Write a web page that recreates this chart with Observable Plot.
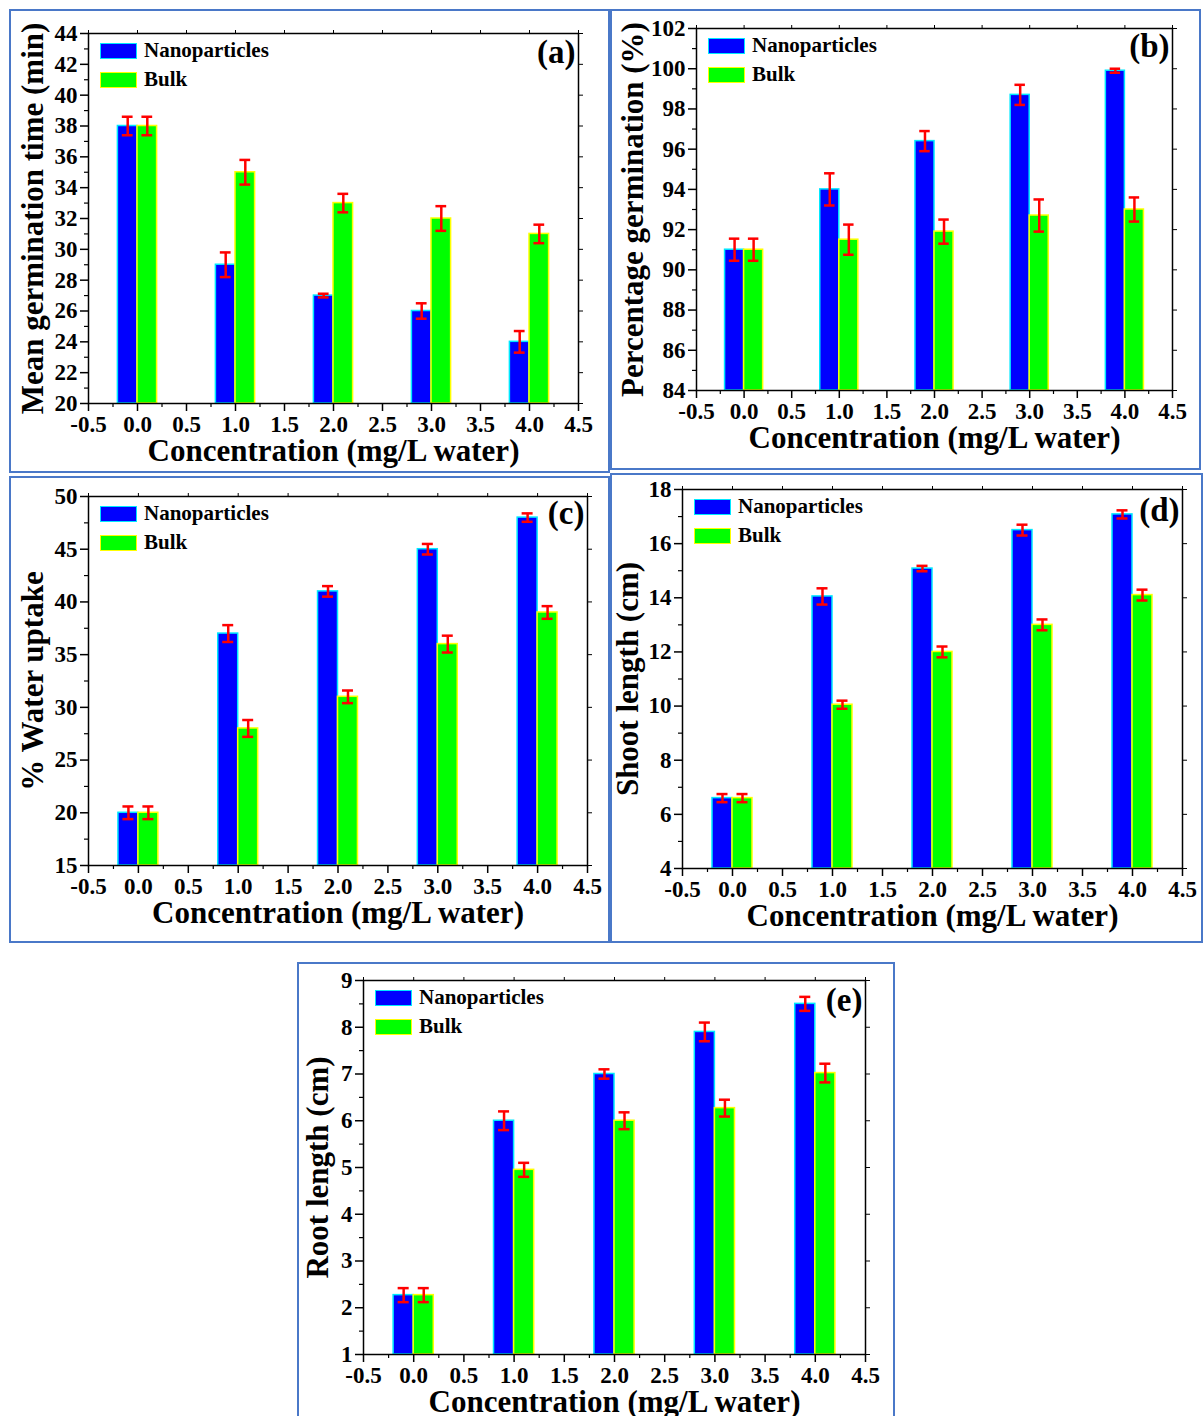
<!DOCTYPE html>
<html><head><meta charset="utf-8">
<script src="https://cdn.jsdelivr.net/npm/d3@7"></script>
<script src="https://cdn.jsdelivr.net/npm/@observablehq/plot@0.6"></script>
<style>
html,body{margin:0;padding:0;background:#fff;}
body{width:1203px;height:1416px;overflow:hidden;position:relative;font-family:"Liberation Serif","Times New Roman",serif;}
.panel{position:absolute;}
.panel svg{position:absolute;left:0;top:0;}
.border{position:absolute;left:0;top:0;right:0;bottom:0;border:2.5px solid #4a78c8;box-sizing:border-box;pointer-events:none;}
.legend{position:absolute;font-weight:bold;font-size:21px;color:#000;line-height:1;}
.legend .item{display:flex;align-items:center;height:29px;}
.legend .sw{width:35px;height:14px;margin-right:7px;border:1.5px solid;}
</style>
</head><body>
<script>
// ---- shared categories ----
const concentrations = [0, 1, 2, 3, 4];
const seriesNames = ["Nanoparticles", "Bulk"];
const xTicks = [-0.5, 0, 0.5, 1, 1.5, 2, 2.5, 3, 3.5, 4, 4.5];
const xLabel = "Concentration (mg/L water)";

// ---- (a) Mean germination time ----
const mgtNano = [38, 29, 27, 26, 24];
const mgtNanoErr = [0.6, 0.8, 0.12, 0.5, 0.7];
const mgtBulk = [38, 35, 33, 32, 31];
const mgtBulkErr = [0.6, 0.8, 0.6, 0.8, 0.6];

// ---- (b) Percentage germination ----
const pgNano = [91, 94, 96.4, 98.7, 99.9];
const pgNanoErr = [0.55, 0.8, 0.5, 0.5, 0.1];
const pgBulk = [91, 91.5, 91.9, 92.7, 93];
const pgBulkErr = [0.55, 0.75, 0.6, 0.8, 0.6];

// ---- (c) Water uptake ----
const wuNano = [20, 37, 41, 45, 48];
const wuNanoErr = [0.6, 0.8, 0.5, 0.5, 0.4];
const wuBulk = [20, 28, 31, 36, 39];
const wuBulkErr = [0.6, 0.8, 0.6, 0.8, 0.6];

// ---- (d) Shoot length ----
const slNano = [6.6, 14.05, 15.08, 16.5, 17.08];
const slNanoErr = [0.15, 0.3, 0.1, 0.2, 0.15];
const slBulk = [6.6, 10.05, 12.0, 13.0, 14.1];
const slBulkErr = [0.15, 0.15, 0.2, 0.2, 0.2];

// ---- (e) Root length ----
const rlNano = [2.27, 6.0, 7.0, 7.9, 8.5];
const rlNanoErr = [0.15, 0.2, 0.1, 0.2, 0.15];
const rlBulk = [2.27, 4.95, 6.0, 6.27, 7.02];
const rlBulkErr = [0.15, 0.15, 0.18, 0.18, 0.2];

const fills = {Nanoparticles: "#0000ff", Bulk: "#00ff00"};
const strokes = {Nanoparticles: "#00e8ff", Bulk: "#ffff00"};

const panels = [
  {tag: "(a)", yLabel: "Mean germination time (min)", nano: mgtNano, nanoErr: mgtNanoErr, bulk: mgtBulk, bulkErr: mgtBulkErr,
   domain: [20, 44], step: 2, box: [9, 9, 601, 464], m: [24, 32, 70, 79], yDx: -55, tagDy: 19},
  {tag: "(b)", yLabel: "Percentage germination (%)", nano: pgNano, nanoErr: pgNanoErr, bulk: pgBulk, bulkErr: pgBulkErr,
   domain: [84, 102], step: 2, box: [610, 9, 591, 461], m: [19, 29, 80, 86], yDx: -63, tagDy: 18},
  {tag: "(c)", yLabel: "% Water uptake", nano: wuNano, nanoErr: wuNanoErr, bulk: wuBulk, bulkErr: wuBulkErr,
   domain: [15, 50], step: 5, box: [9, 476, 601, 467], m: [20, 23, 78, 79], yDx: -55, tagDy: 17},
  {tag: "(d)", yLabel: "Shoot length (cm)", nano: slNano, nanoErr: slNanoErr, bulk: slBulk, bulkErr: slBulkErr,
   domain: [4, 18], step: 2, box: [610, 473, 593, 470], m: [16, 21, 75, 72], yDx: -54, tagDy: 21},
  {tag: "(e)", yLabel: "Root length (cm)", nano: rlNano, nanoErr: rlNanoErr, bulk: rlBulk, bulkErr: rlBulkErr,
   domain: [1, 9], step: 1, box: [297, 962, 598, 460], m: [18, 30, 68, 66], yDx: -45, tagDy: 20}
];

const eps = 1e-9;
const minorX = d3.range(-0.5, 4.5 + eps, 0.25).filter(v => !xTicks.some(t => Math.abs(t - v) < eps));
const bw = 0.2;
const cap = 0.055;
const FONT = "'Liberation Serif','Times New Roman',serif";

function build(cfg) {
  const rows = [];
  concentrations.forEach((c, i) => {
    rows.push({c, s: seriesNames[0], v: cfg.nano[i], e: cfg.nanoErr[i]});
    rows.push({c, s: seriesNames[1], v: cfg.bulk[i], e: cfg.bulkErr[i]});
  });
  const nanoRows = rows.filter(d => d.s === seriesNames[0]);
  const bulkRows = rows.filter(d => d.s === seriesNames[1]);
  const cx = d => d.c + (d.s === seriesNames[0] ? -bw / 2 : bw / 2);
  const [y0, y1] = cfg.domain;
  const majorY = d3.range(y0, y1 + eps, cfg.step);
  const minorY = d3.range(y0, y1 + eps, cfg.step / 2).filter(v => !majorY.some(t => Math.abs(t - v) < eps));
  const [left, top, w, h] = cfg.box;
  const [mt, mr, mb, ml] = cfg.m;

  const barMark = (data, s) => Plot.rect(data, {
    x1: d => d.c + (s === seriesNames[0] ? -bw : 0),
    x2: d => d.c + (s === seriesNames[0] ? 0 : bw),
    y1: () => y0, y2: "v",
    fill: fills[s], stroke: strokes[s], strokeWidth: 1.5
  });

  const chart = Plot.plot({
    width: w, height: h,
    marginTop: mt, marginRight: mr, marginBottom: mb, marginLeft: ml,
    x: {domain: [-0.5, 4.5]},
    y: {domain: cfg.domain},
    style: {fontFamily: FONT, fontWeight: "bold", fontSize: "23px", color: "#000", background: "transparent", overflow: "visible"},
    marks: [
      barMark(nanoRows, seriesNames[0]),
      barMark(bulkRows, seriesNames[1]),
      Plot.ruleX(rows, {x: cx, y1: d => d.v - d.e, y2: d => d.v + d.e, stroke: "#ff0000", strokeWidth: 2.5}),
      Plot.ruleY(rows, {y: d => d.v + d.e, x1: d => cx(d) - cap, x2: d => cx(d) + cap, stroke: "#ff0000", strokeWidth: 2.5}),
      Plot.ruleY(rows, {y: d => d.v - d.e, x1: d => cx(d) - cap, x2: d => cx(d) + cap, stroke: "#ff0000", strokeWidth: 2.5}),
      Plot.frame({stroke: "#000", strokeWidth: 1.5}),
      Plot.axisX({ticks: xTicks, tickSize: 8, tickPadding: 4, tickFormat: d => d.toFixed(1), label: null, strokeWidth: 1.5, fontSize: 23, fontWeight: "bold", fontFamily: FONT}),
      Plot.axisX({ticks: minorX, tickSize: 4, fill: "none", label: null, strokeWidth: 1.2}),
      Plot.axisX({anchor: "top", ticks: xTicks, tickSize: 4, fill: "none", label: null, strokeWidth: 1}),
      Plot.axisY({ticks: majorY, tickSize: 8, tickPadding: 3, tickFormat: d => String(d), label: null, strokeWidth: 1.5, fontSize: 23, fontWeight: "bold", fontFamily: FONT}),
      Plot.axisY({ticks: minorY, tickSize: 4, fill: "none", label: null, strokeWidth: 1.2}),
      Plot.axisY({anchor: "right", ticks: majorY, tickSize: 4, fill: "none", label: null, strokeWidth: 1}),
      Plot.text([xLabel], {text: d => d, frameAnchor: "bottom", textAnchor: "middle", lineAnchor: "middle", dy: 48, fontSize: 31, fontWeight: "bold", fontFamily: FONT, fill: "#000"}),
      Plot.text([cfg.yLabel], {text: d => d, frameAnchor: "left", textAnchor: "middle", lineAnchor: "middle", rotate: -90, dx: cfg.yDx, fontSize: 31, fontWeight: "bold", fontFamily: FONT, fill: "#000"}),
      Plot.text([cfg.tag], {text: d => d, frameAnchor: "top-right", textAnchor: "end", lineAnchor: "middle", dx: -3, dy: cfg.tagDy, fontSize: 33, fontWeight: "bold", fontFamily: FONT, fill: "#000"})
    ]
  });

  const div = document.createElement("div");
  div.className = "panel";
  Object.assign(div.style, {left: left + "px", top: top + "px", width: w + "px", height: h + "px"});
  div.appendChild(chart);

  const leg = document.createElement("div");
  leg.className = "legend";
  Object.assign(leg.style, {left: (ml + 12) + "px", top: (mt + 3) + "px"});
  seriesNames.forEach(s => {
    const it = document.createElement("div");
    it.className = "item";
    const sw = document.createElement("span");
    sw.className = "sw";
    sw.style.background = fills[s];
    sw.style.borderColor = strokes[s];
    const tx = document.createElement("span");
    tx.textContent = s;
    it.appendChild(sw); it.appendChild(tx);
    leg.appendChild(it);
  });
  div.appendChild(leg);

  const border = document.createElement("div");
  border.className = "border";
  div.appendChild(border);
  document.body.appendChild(div);
}

panels.forEach(build);
</script>
</body></html>
